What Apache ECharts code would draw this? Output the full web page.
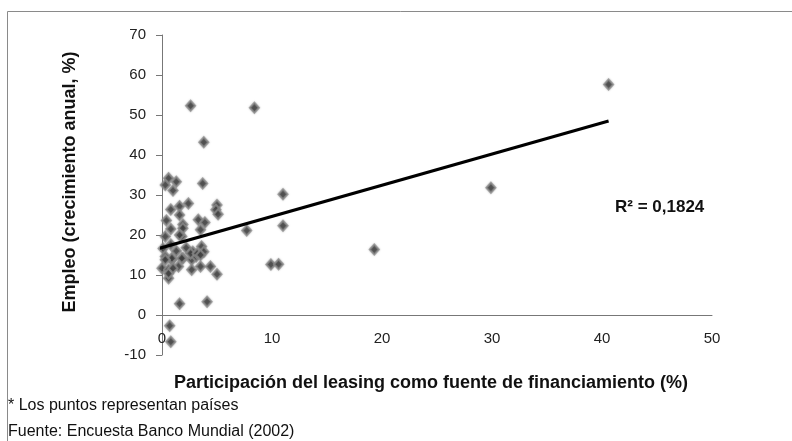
<!DOCTYPE html>
<html>
<head>
<meta charset="utf-8">
<script src="https://cdn.jsdelivr.net/npm/echarts@6/dist/echarts.min.js"></script>
<style>
html,body{margin:0;padding:0;background:#fff;}
#chart{width:792px;height:441px;}
</style>
</head>
<body>
<div id="chart"></div>
<script>
// Leasing share (%) of financing per country
var leasingShare = [
  2.6, 8.4, 3.8, 40.6, 29.9, 11.0, 11.0, 7.7, 19.3, 9.9, 10.6,
  0.6, 1.3, 0.3, 1.0, 3.7, 2.4, 1.6, 0.8, 1.6, 5.0, 4.9, 5.1,
  0.4, 1.9, 3.3, 3.9, 0.8, 1.9, 3.5, 0.3, 1.8, -0.2, 0.8, 0.1,
  1.3, 2.2, 2.8, 3.6, 3.8, 0.3, 0.9, 1.9, 2.7, 3.1, 3.5, 2.7,
  0.0, 0.6, 4.4, 5.0, -0.2, 0.6, 1.5, -0.2, 0.6, 1.0, 2.6, 3.2,
  1.8, 3.5, 0.9, 0.3, -0.1, 1.6, 4.1, 0.7, 0.8, 1.6
];
// Employment annual growth (%) per country
var employmentGrowth = [
  52.3, 51.8, 43.2, 57.6, 31.8, 30.2, 22.3, 21.1, 16.4, 12.6, 12.7,
  34.2, 33.3, 32.5, 31.1, 32.9, 27.9, 27.2, 26.4, 25.0, 27.5, 26.3, 25.2,
  23.6, 22.6, 23.8, 23.1, 21.5, 21.7, 21.3, 19.6, 19.6, 17.3, 17.6, 16.6,
  16.0, 16.8, 15.8, 17.1, 15.8, 14.6, 13.8, 14.2, 13.8, 14.6, 12.1, 11.3,
  11.7, 11.3, 12.1, 10.2, 9.3, 9.2, 12.1, 10.8, 10.4, 11.7, 15.4, 15.4,
  14.2, 15.0, 14.2, 13.8, 3.3, 2.8, 3.3, -2.7, -6.7, 20.0
];
// Linear trend line endpoints
var trendX = [-0.2, 40.6];
var trendY = [16.7, 48.5];
var xTicks = [0, 10, 20, 30, 40, 50];
var yTicks = [-10, 0, 10, 20, 30, 40, 50, 60, 70];
var r2Label = 'R² = 0,1824';

var points = leasingShare.map(function (x, i) { return [x, employmentGrowth[i]]; });
var trend = trendX.map(function (x, i) { return [x, trendY[i]]; });

var chart = echarts.init(document.getElementById('chart'), null, {renderer: 'canvas'});
var font = '"Liberation Sans", Arial, sans-serif';
chart.setOption({
  animation: false,
  backgroundColor: '#ffffff',
  grid: {left: 162, right: 80, top: 35, bottom: 86, containLabel: false},
  xAxis: {
    type: 'value',
    min: xTicks[0], max: xTicks[xTicks.length - 1], interval: 10,
    axisLine: {show: true, onZero: true, lineStyle: {color: '#777', width: 1}},
    axisTick: {show: false},
    splitLine: {show: false},
    axisLabel: {margin: -24, color: '#222', fontSize: 15, fontFamily: font}
  },
  yAxis: {
    type: 'value',
    min: yTicks[0], max: yTicks[yTicks.length - 1], interval: 10,
    axisLine: {show: true, onZero: false, lineStyle: {color: '#777', width: 1}},
    axisTick: {show: true, inside: false, length: 6, lineStyle: {color: '#777'}},
    splitLine: {show: false},
    axisLabel: {margin: 16, color: '#222', fontSize: 15, fontFamily: font}
  },
  series: [
    {
      type: 'scatter',
      data: points,
      symbol: 'diamond',
      symbolSize: [9, 10],
      itemStyle: {color: '#333', borderColor: 'rgba(140,140,140,0.9)', borderWidth: 2,
                  shadowBlur: 2, shadowColor: 'rgba(120,120,120,0.6)'},
      z: 2
    },
    {
      type: 'line',
      data: trend,
      symbol: 'none',
      lineStyle: {color: '#000', width: 3},
      z: 3
    }
  ],
  graphic: [
    {type: 'rect', left: 5, top: 9, z: -1, silent: true,
     shape: {width: 800, height: 450},
     style: {fill: 'none', stroke: '#8a8a8a', lineWidth: 1}},
    {type: 'text', x: 615, y: 207,
     style: {text: r2Label, font: 'bold 17px ' + font, fill: '#111', verticalAlign: 'middle'}},
    {type: 'text', x: 70, y: 182, rotation: Math.PI / 2,
     style: {text: 'Empleo (crecimiento anual, %)', font: 'bold 18px ' + font,
             fill: '#111', align: 'center', verticalAlign: 'middle'}},
    {type: 'text', x: 431, y: 383,
     style: {text: 'Participación del leasing como fuente de financiamiento (%)',
             font: 'bold 18px ' + font, fill: '#111', align: 'center', verticalAlign: 'middle'}},
    {type: 'text', x: 8, y: 406,
     style: {text: '* Los puntos representan países', font: '16px ' + font, fill: '#111',
             verticalAlign: 'middle'}},
    {type: 'text', x: 8, y: 432,
     style: {text: 'Fuente: Encuesta Banco Mundial (2002)', font: '16px ' + font, fill: '#111',
             verticalAlign: 'middle'}}
  ]
});
</script>
</body>
</html>
